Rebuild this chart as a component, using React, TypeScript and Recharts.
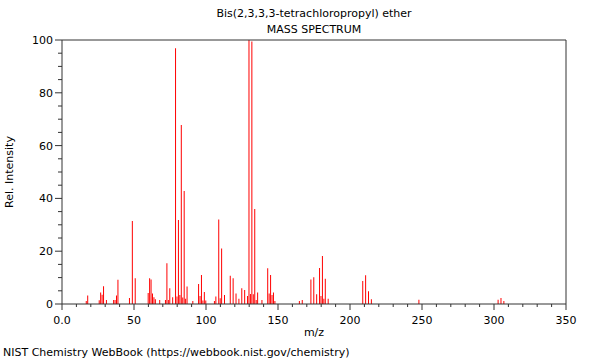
import React from "react";
import { BarChart, Bar, XAxis, YAxis, ReferenceLine } from "recharts";

// peak list (m/z -> relative intensity)
const mzValues = [
  17, 18, 26, 27, 28, 29, 31, 36, 37, 38, 39, 47, 49, 51, 60, 61, 62, 63, 64,
  65, 68, 72, 73, 74, 75, 77, 79, 80, 81, 82, 83, 84, 85, 86, 87, 91, 95, 96,
  97, 98, 99, 100, 106, 107, 109, 110, 111, 113, 117, 119, 121, 123, 125, 127,
  129, 130, 131, 132, 133, 134, 135, 136, 139, 143, 144, 145, 146, 147, 148,
  165, 167, 173, 175, 177, 179, 180, 181, 182, 183, 185, 209, 211, 213, 215,
  248, 303, 305, 307,
];
const intensities = [
  1.1, 3.2, 1.4, 4.4, 3.5, 6.7, 1.5, 1.5, 1.5, 3.2, 9.2, 2.3, 31.4, 9.8, 4.2,
  9.8, 9.3, 4.0, 2.6, 1.8, 1.5, 1.5, 15.4, 1.5, 6.0, 2.6, 96.9, 2.8, 31.8, 3.4,
  67.8, 2.5, 42.8, 2.0, 6.6, 1.1, 7.6, 3.0, 11.0, 1.3, 4.5, 1.3, 1.1, 2.8, 32.0,
  2.2, 21.0, 3.4, 10.7, 9.8, 4.0, 2.0, 6.0, 5.3, 3.0, 100, 3.8, 99.4, 3.7, 36.0,
  1.5, 4.4, 1.5, 13.5, 4.0, 11.0, 3.4, 4.4, 1.1, 1.1, 1.5, 9.3, 10.1, 3.7, 13.6,
  3.0, 18.2, 2.0, 9.6, 2.0, 8.7, 10.9, 4.8, 1.8, 1.6, 1.6, 2.3, 1.1,
];

const xTicks = [
  0, 10, 20, 30, 40, 50, 60, 70, 80, 90, 100, 110, 120, 130, 140, 150, 160,
  170, 180, 190, 200, 210, 220, 230, 240, 250, 260, 270, 280, 290, 300, 310,
  320, 330, 340, 350,
];
const yTicks = [
  0, 5, 10, 15, 20, 25, 30, 35, 40, 45, 50, 55, 60, 65, 70, 75, 80, 85, 90, 95,
  100,
];

const data = mzValues.map((m, i) => ({ mz: m, intensity: intensities[i] }));

const font = "'DejaVu Sans', sans-serif";
const axisColor = "#333";

const XTick = (props: any) => {
  const { x, y, payload } = props;
  const major = payload.value % 50 === 0;
  return (
    <g>
      <line x1={x} x2={x} y1={y} y2={y + (major ? 6 : 3)} stroke={axisColor} />
      {major && (
        <text
          x={x}
          y={y + 20}
          textAnchor="middle"
          fontSize={11}
          fontFamily={font}
          fill="#000"
        >
          {payload.value === 0 ? "0.0" : payload.value}
        </text>
      )}
    </g>
  );
};

const YTick = (props: any) => {
  const { x, y, payload } = props;
  const major = payload.value % 20 === 0;
  return (
    <g>
      <line x1={x} x2={x - (major ? 7 : 4)} y1={y} y2={y} stroke={axisColor} />
      {major && (
        <text
          x={x - 9}
          y={y + 4}
          textAnchor="end"
          fontSize={11}
          fontFamily={font}
          fill="#000"
        >
          {payload.value}
        </text>
      )}
    </g>
  );
};

export default function App() {
  return (
    <div
      style={{
        position: "absolute",
        left: 0,
        top: 0,
        width: 600,
        height: 360,
        background: "#fff",
        fontFamily: font,
      }}
    >
      <BarChart
        width={600}
        height={360}
        data={data}
        margin={{ top: 40, right: 34, bottom: 26, left: 12 }}
      >
        <XAxis
          dataKey="mz"
          type="number"
          domain={[0, 350]}
          ticks={xTicks}
          interval={0}
          tickSize={0}
          tickMargin={0}
          tick={<XTick />}
          stroke={axisColor}
          height={30}
          allowDataOverflow
        />
        <YAxis
          type="number"
          domain={[0, 100]}
          ticks={yTicks}
          interval={0}
          tickSize={0}
          tickMargin={0}
          tick={<YTick />}
          stroke={axisColor}
          width={50}
          allowDataOverflow
        />
        <ReferenceLine y={100} stroke={axisColor} />
        <ReferenceLine x={350} stroke={axisColor} />
        <Bar
          dataKey="intensity"
          fill="#ff0000"
          barSize={1}
          isAnimationActive={false}
        />
      </BarChart>

      <div
        style={{
          position: "absolute",
          left: 62,
          width: 504,
          top: 7,
          textAlign: "center",
          fontSize: 11,
          lineHeight: "14px",
        }}
      >
        Bis(2,3,3,3-tetrachloropropyl) ether
      </div>
      <div
        style={{
          position: "absolute",
          left: 62,
          width: 504,
          top: 23,
          textAlign: "center",
          fontSize: 11,
          lineHeight: "14px",
        }}
      >
        MASS SPECTRUM
      </div>
      <div
        style={{
          position: "absolute",
          left: 62,
          width: 504,
          top: 326,
          textAlign: "center",
          fontSize: 11,
          lineHeight: "14px",
        }}
      >
        m/z
      </div>
      <div
        style={{
          position: "absolute",
          left: 10,
          top: 172,
          transform: "translate(-50%, -50%) rotate(-90deg)",
          fontSize: 11,
          lineHeight: "14px",
          whiteSpace: "nowrap",
        }}
      >
        Rel. Intensity
      </div>
      <div
        style={{
          position: "absolute",
          left: 3,
          top: 346,
          fontSize: 11,
          lineHeight: "14px",
          whiteSpace: "nowrap",
        }}
      >
        NIST Chemistry WebBook (https://webbook.nist.gov/chemistry)
      </div>
    </div>
  );
}
